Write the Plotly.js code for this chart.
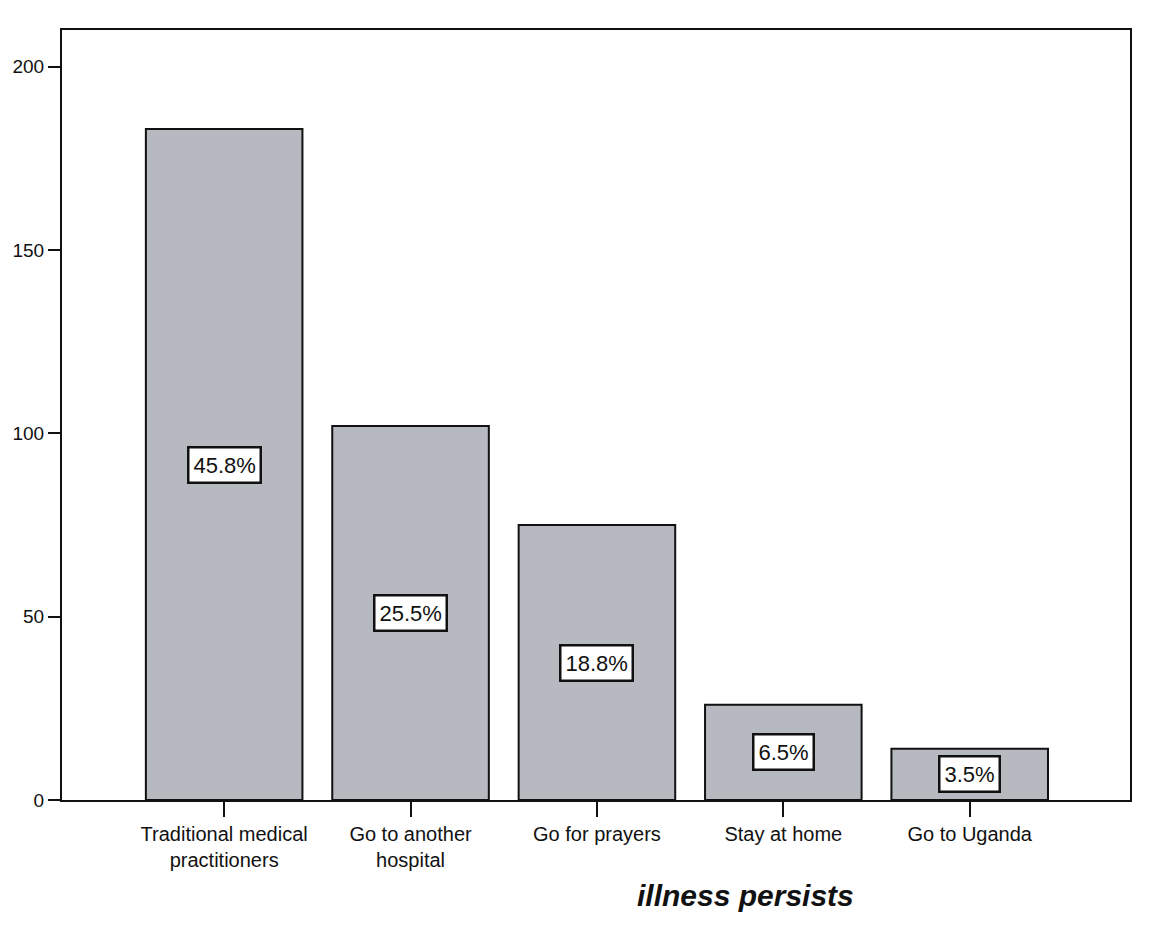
<!DOCTYPE html>
<html>
<head>
<meta charset="utf-8">
<script src="https://cdn.plot.ly/plotly-3.0.1.min.js"></script>
<style>
  html, body { margin: 0; padding: 0; background: #ffffff; }
  #chart { width: 1156px; height: 926px; }
</style>
</head>
<body>
<div id="chart"></div>
<script>
// Responses: what people do when an illness persists
const categories = [
  "Traditional medical<br>practitioners",
  "Go to another<br>hospital",
  "Go for prayers",
  "Stay at home",
  "Go to Uganda"
];
const counts = [183, 102, 75, 26, 14];
const yTicks = [0, 50, 100, 150, 200];

const total = counts.reduce((a, b) => a + b, 0);
const percentLabels = counts.map(c => (c / total * 100).toFixed(1) + "%");

const font = "Liberation Sans, Arial, sans-serif";

const bars = {
  type: "bar",
  x: categories,
  y: counts,
  width: 0.84,
  marker: {
    color: "#b6b9c0",
    line: { color: "#111111", width: 2 }
  },
  hoverinfo: "skip"
};

// boxed percentage labels at the middle of each bar
const labels = categories.map((cat, i) => ({
  x: cat,
  y: counts[i] / 2,
  xref: "x",
  yref: "y",
  text: percentLabels[i],
  showarrow: false,
  bgcolor: "#ffffff",
  bordercolor: "#111111",
  borderwidth: 2.5,
  borderpad: 4,
  font: { family: font, size: 22, color: "#111111" }
}));

labels.push({
  xref: "paper",
  yref: "paper",
  x: 0.64,
  y: -0.1,
  xanchor: "center",
  yanchor: "top",
  text: "<b><i>illness persists</i></b>",
  showarrow: false,
  font: { family: font, size: 30, color: "#111111" }
});

const layout = {
  width: 1156,
  height: 926,
  margin: { l: 62, r: 26, t: 30, b: 126 },
  paper_bgcolor: "#ffffff",
  plot_bgcolor: "#ffffff",
  showlegend: false,
  font: { family: font, size: 20, color: "#111111" },
  xaxis: {
    type: "category",
    range: [-0.87, 4.86],
    showline: true,
    linecolor: "#111111",
    linewidth: 2,
    mirror: true,
    ticks: "outside",
    ticklen: 15,
    tickwidth: 2,
    tickcolor: "#111111",
    showgrid: false,
    zeroline: false,
    tickfont: { family: font, size: 20, color: "#111111" }
  },
  yaxis: {
    range: [0, 210],
    tickmode: "array",
    tickvals: yTicks,
    ticktext: yTicks.map(String),
    showline: true,
    linecolor: "#111111",
    linewidth: 2,
    mirror: true,
    ticks: "outside",
    ticklen: 12,
    tickwidth: 2,
    tickcolor: "#111111",
    showgrid: false,
    zeroline: false,
    tickfont: { family: font, size: 19, color: "#111111" }
  },
  annotations: labels
};

Plotly.newPlot("chart", [bars], layout, { displayModeBar: false, staticPlot: true });
</script>
</body>
</html>
